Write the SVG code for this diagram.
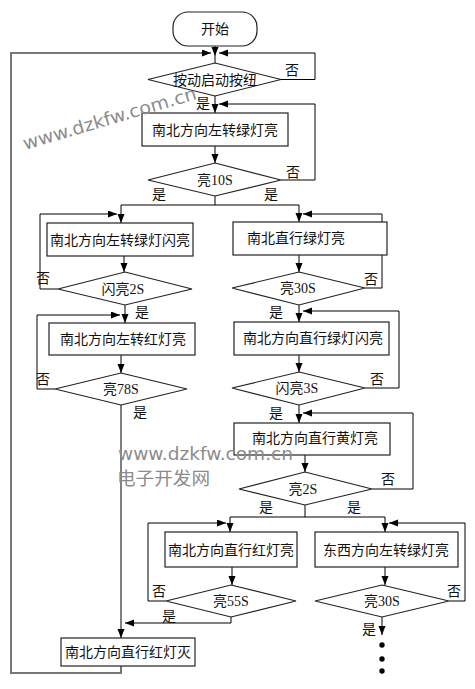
<svg xmlns="http://www.w3.org/2000/svg" width="475" height="689" viewBox="0 0 475 689">
<style>
.bg{fill:#fff}
.shape{fill:#fff;stroke:#222;stroke-width:1.2}
.ln{fill:none;stroke:#000;stroke-width:1}
.outer{fill:none;stroke:#777;stroke-width:2}
.t{font-family:"Liberation Serif","Noto Sans CJK SC",serif;font-size:14px;text-anchor:middle;fill:#111}
.lab{font-family:"Liberation Serif","Noto Sans CJK SC",serif;font-size:14px;text-anchor:middle;fill:#111}
.wm{font-family:"DejaVu Sans",sans-serif;font-size:18px;fill:#8c8c8c}
.wmc{font-family:"Noto Sans CJK SC",sans-serif;font-size:18px;fill:#8c8c8c}
.dot{fill:#000}
</style>
<defs>
<marker id="arr" markerUnits="userSpaceOnUse" markerWidth="10" markerHeight="8" refX="9" refY="3.5" orient="auto">
<path d="M0,0 L9,3.5 L0,7 z" fill="#000"/>
</marker>
</defs>
<rect class="bg" x="0" y="0" width="475" height="689"/>

<g id="connectors">
<path class="ln" d="M215,46 V56" marker-end="url(#arr)"/>
<path class="ln" d="M215,56 V63"/>
<path class="outer" d="M121,666 V673 H11 V53 H203"/>
<path class="ln" d="M203,53 H211" marker-end="url(#arr)"/>
<path class="ln" d="M281,79.5 H315 V53 H219" marker-end="url(#arr)"/>
<path class="ln" d="M215,96 V113" marker-end="url(#arr)"/>
<path class="ln" d="M281,180 H315 V104 H219" marker-end="url(#arr)"/>
<path class="ln" d="M215,146 V163" marker-end="url(#arr)"/>
<path class="ln" d="M215,196 V205 H121 V223" marker-end="url(#arr)"/>
<path class="ln" d="M215,205 H299 V222" marker-end="url(#arr)"/>
<path class="ln" d="M58,289 H40 V214 H117" marker-end="url(#arr)"/>
<path class="ln" d="M124,256 V272" marker-end="url(#arr)"/>
<path class="ln" d="M125,305 V323" marker-end="url(#arr)"/>
<path class="ln" d="M55,389 H37 V315 H120" marker-end="url(#arr)"/>
<path class="ln" d="M121,355 V373" marker-end="url(#arr)"/>
<path class="ln" d="M121,405 V638" marker-end="url(#arr)"/>
<path class="ln" d="M231,617 V623 H125" marker-end="url(#arr)"/>
<path class="ln" d="M365,288 H382 V214 H303" marker-end="url(#arr)"/>
<path class="ln" d="M299,255 V272" marker-end="url(#arr)"/>
<path class="ln" d="M299,305 V322" marker-end="url(#arr)"/>
<path class="ln" d="M365,388 H399 V311 H303" marker-end="url(#arr)"/>
<path class="ln" d="M299,355 V372" marker-end="url(#arr)"/>
<path class="ln" d="M299,405 V423" marker-end="url(#arr)"/>
<path class="ln" d="M372,489 H413 V413 H303" marker-end="url(#arr)"/>
<path class="ln" d="M305,455 V472" marker-end="url(#arr)"/>
<path class="ln" d="M305,505 V517 H230 V532" marker-end="url(#arr)"/>
<path class="ln" d="M305,517 H385 V532" marker-end="url(#arr)"/>
<path class="ln" d="M166,601 H148 V523 H226" marker-end="url(#arr)"/>
<path class="ln" d="M232,567 V585" marker-end="url(#arr)"/>
<path class="ln" d="M449,601 H465 V523 H389" marker-end="url(#arr)"/>
<path class="ln" d="M385,567 V585" marker-end="url(#arr)"/>
<path class="ln" d="M382,617 V635" marker-end="url(#arr)"/>
<text class="lab" x="292" y="75">否</text>
<text class="lab" x="203" y="108">是</text>
<text class="lab" x="293" y="177">否</text>
<text class="lab" x="159" y="199">是</text>
<text class="lab" x="271" y="199">是</text>
<text class="lab" x="43" y="283">否</text>
<text class="lab" x="142" y="317">是</text>
<text class="lab" x="43" y="384">否</text>
<text class="lab" x="140" y="417">是</text>
<text class="lab" x="169" y="621">是</text>
<text class="lab" x="371" y="284">否</text>
<text class="lab" x="276" y="317">是</text>
<text class="lab" x="377" y="384">否</text>
<text class="lab" x="276" y="418">是</text>
<text class="lab" x="388" y="484">否</text>
<text class="lab" x="266" y="512">是</text>
<text class="lab" x="354" y="512">是</text>
<text class="lab" x="159" y="596">否</text>
<text class="lab" x="454" y="596">否</text>
<text class="lab" x="369" y="634">是</text>
</g>

<g id="start">
<rect class="shape" x="173" y="12" width="84" height="34" rx="15" ry="15"/>
<text class="t" x="215" y="34">开始</text>
</g>
<g id="d-button">
<polygon class="shape" points="215,63 281,79.5 215,96 148,79.5"/>
<text class="t" x="215" y="84.5">按动启动按纽</text>
</g>
<g id="b-left-green">
<rect class="shape" x="142" y="113" width="146" height="33"/>
<text class="t" x="215" y="134.5">南北方向左转绿灯亮</text>
</g>
<g id="d-10s">
<polygon class="shape" points="215,163 281,180 215,196 148,180"/>
<text class="t" x="215" y="185">亮10S</text>
</g>
<g id="b-left-green-flash">
<rect class="shape" x="47" y="223" width="146" height="33"/>
<text class="t" x="120" y="244.5">南北方向左转绿灯闪亮</text>
</g>
<g id="d-2s-flash">
<polygon class="shape" points="125,272 192,289 125,305 58,289"/>
<text class="t" x="123" y="294">闪亮2S</text>
</g>
<g id="b-left-red">
<rect class="shape" x="49" y="323" width="146" height="32"/>
<text class="t" x="123" y="344">南北方向左转红灯亮</text>
</g>
<g id="d-78s">
<polygon class="shape" points="121,373 187,389 121,405 55,389"/>
<text class="t" x="121" y="394">亮78S</text>
</g>
<g id="b-straight-red-off">
<rect class="shape" x="61" y="638" width="134" height="28"/>
<text class="t" x="128" y="657">南北方向直行红灯灭</text>
</g>
<g id="b-straight-green">
<rect class="shape" x="233" y="222" width="154" height="33"/>
<text class="t" x="296" y="243">南北直行绿灯亮</text>
</g>
<g id="d-30s-a">
<polygon class="shape" points="299,272 365,288 299,305 232,288"/>
<text class="t" x="298" y="293">亮30S</text>
</g>
<g id="b-straight-green-flash">
<rect class="shape" x="234" y="322" width="155" height="33"/>
<text class="t" x="313" y="343">南北方向直行绿灯闪亮</text>
</g>
<g id="d-3s-flash">
<polygon class="shape" points="299,372 365,388 299,405 232,388"/>
<text class="t" x="297" y="393">闪亮3S</text>
</g>
<g id="b-straight-yellow">
<rect class="shape" x="234" y="423" width="156" height="32"/>
<text class="t" x="315" y="443">南北方向直行黄灯亮</text>
</g>
<g id="d-2s">
<polygon class="shape" points="305,472 372,489 305,505 239,489"/>
<text class="t" x="303" y="494">亮2S</text>
</g>
<g id="b-straight-red">
<rect class="shape" x="165" y="532" width="132" height="35"/>
<text class="t" x="231" y="555">南北方向直行红灯亮</text>
</g>
<g id="d-55s">
<polygon class="shape" points="231,585 296,601 231,617 166,601"/>
<text class="t" x="231" y="606">亮55S</text>
</g>
<g id="b-ew-left-green">
<rect class="shape" x="315" y="532" width="143" height="35"/>
<text class="t" x="386" y="555">东西方向左转绿灯亮</text>
</g>
<g id="d-30s-b">
<polygon class="shape" points="382,585 449,601 382,617 315,601"/>
<text class="t" x="382" y="606">亮30S</text>
</g>
<g id="continue-dots">
<circle class="dot" cx="382" cy="645" r="2.7"/>
<circle class="dot" cx="382" cy="659" r="2.7"/>
<circle class="dot" cx="382" cy="671" r="2.7"/>
</g>

<g id="watermarks">
<text class="wm" x="25" y="150" transform="rotate(-16.5 25 150)" textLength="180" lengthAdjust="spacingAndGlyphs">www.dzkfw.com.cn</text>
<text class="wm" x="118" y="460" textLength="175" lengthAdjust="spacingAndGlyphs">www.dzkfw.com.cn</text>
<text class="wmc" x="117" y="485" textLength="93" lengthAdjust="spacingAndGlyphs">电子开发网</text>
</g>
</svg>
